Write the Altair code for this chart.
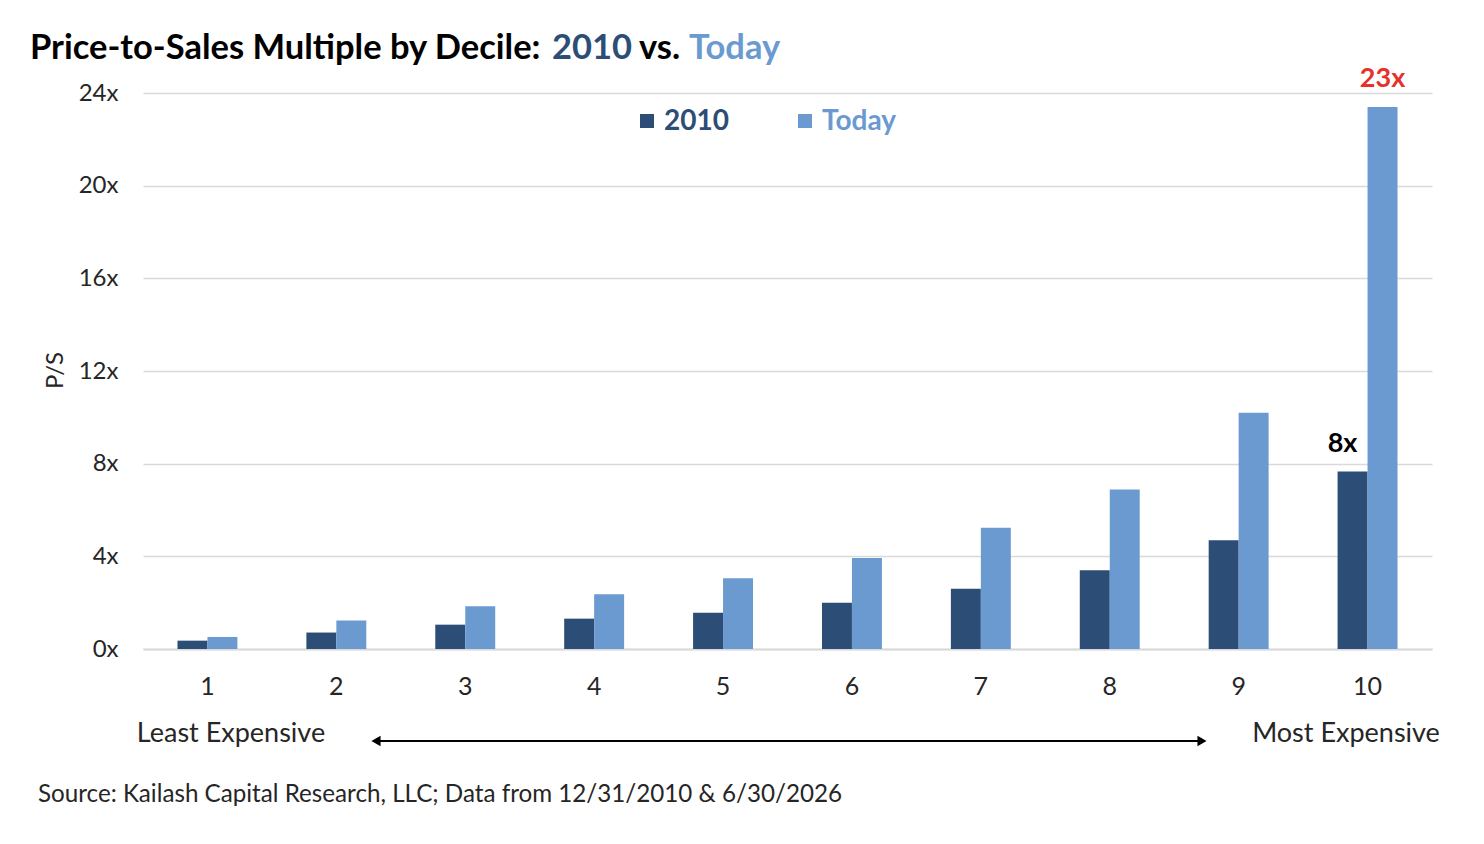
import altair as alt
import pandas as pd

# ---- data ----
deciles = [1, 2, 3, 4, 5, 6, 7, 8, 9, 10]
ps_2010 = [0.36, 0.71, 1.05, 1.31, 1.57, 2.00, 2.60, 3.40, 4.69, 7.66]
ps_today = [0.52, 1.23, 1.84, 2.36, 3.05, 3.93, 5.23, 6.88, 10.20, 23.40]
series_names = ["2010", "Today"]
series_colors = ["#2C4D75", "#6A9AD0"]
y_ticks = [0, 4, 8, 12, 16, 20, 24]

title_parts = ["Price-to-Sales Multiple by Decile:", "2010", "vs.", "Today"]
title_colors = ["#000000", "#2C4D75", "#000000", "#6A9AD0"]
title_x = [-113, 409, 496, 546]

left_note = "Least Expensive"
right_note = "Most Expensive"
source_note = "Source: Kailash Capital Research, LLC; Data from 12/31/2010 & 6/30/2026"

FONT = "Lato"
TXT = "#262626"

rows = []
for d, a, b in zip(deciles, ps_2010, ps_today):
    rows.append({"decile": d, "series": series_names[0], "value": a})
    rows.append({"decile": d, "series": series_names[1], "value": b})
df = pd.DataFrame(rows)

W, H = 1289, 556

xscale = alt.Scale(paddingInner=0.535, paddingOuter=0.2675)
yscale = alt.Scale(domain=[0, 24], nice=False)
cscale = alt.Scale(domain=series_names, range=series_colors)

bars = alt.Chart(df).mark_bar().encode(
    x=alt.X("decile:O", scale=xscale,
            axis=alt.Axis(title=None, labelAngle=0, labelFontSize=25, labelFont=FONT,
                          labelColor=TXT, labelPadding=25, ticks=False,
                          domainColor="#D9D9D9", domainWidth=2)),
    xOffset=alt.XOffset("series:N", scale=alt.Scale(domain=series_names, paddingInner=0, paddingOuter=0)),
    y=alt.Y("value:Q", scale=yscale,
            axis=alt.Axis(values=y_ticks, labelExpr="datum.value + 'x'", title="P/S",
                          titleFont=FONT, titleFontSize=24, titleFontWeight="normal",
                          titleColor=TXT, titleX=-88, titleY=277, titleAngle=-90,
                          titleAlign="center", titleBaseline="middle",
                          labelFontSize=24, labelFont=FONT, labelColor=TXT, labelPadding=25,
                          ticks=False, domain=False, gridColor="#D9D9D9", gridWidth=1.5)),
    color=alt.Color("series:N", scale=cscale, legend=None),
)

ann_base = alt.Chart(df).transform_filter(alt.datum.decile == 10).transform_calculate(
    label="format(datum.value, '.0f') + 'x'"
)
ann_2010 = ann_base.transform_filter(alt.datum.series == series_names[0]).mark_text(
    font=FONT, fontSize=27, fontWeight="bold", baseline="alphabetic", dy=-20, dx=-10, color="#000000"
).encode(x="decile:O", xOffset="series:N", y="value:Q", text="label:N")
ann_today = ann_base.transform_filter(alt.datum.series == series_names[1]).mark_text(
    font=FONT, fontSize=27, fontWeight="bold", baseline="alphabetic", dy=-20, color="#E8302A"
).encode(x="decile:O", xOffset="series:N", y="value:Q", text="label:N")

layers = [bars, ann_2010, ann_today]

# title pieces
one = pd.DataFrame({"k": [0]})
for txt, col, xx in zip(title_parts, title_colors, title_x):
    layers.append(alt.Chart(one).mark_text(font=FONT, fontSize=34.5, fontWeight="bold",
                                           align="left", baseline="alphabetic", color=col, text=txt)
                  .encode(x=alt.value(xx), y=alt.value(-34)))

# legend
leg_sq_x = [504, 662]
for name, col, sx in zip(series_names, series_colors, leg_sq_x):
    layers.append(alt.Chart(one).mark_square(size=196, color=col, opacity=1)
                  .encode(x=alt.value(sx), y=alt.value(28)))
    layers.append(alt.Chart(one).mark_text(font=FONT, fontSize=28, fontWeight="bold",
                                           align="left", baseline="middle", color=col, text=name)
                  .encode(x=alt.value(sx + 17), y=alt.value(29)))

# bottom notes
layers.append(alt.Chart(one).mark_text(font=FONT, fontSize=27, align="center", baseline="alphabetic",
                                       color=TXT, text=left_note)
              .encode(x=alt.value(88), y=alt.value(649)))
layers.append(alt.Chart(one).mark_text(font=FONT, fontSize=27, align="center", baseline="alphabetic",
                                       color=TXT, text=right_note)
              .encode(x=alt.value(1203), y=alt.value(649)))
layers.append(alt.Chart(one).mark_text(font=FONT, fontSize=24.2, align="left", baseline="alphabetic",
                                       color=TXT, text=source_note)
              .encode(x=alt.value(-105), y=alt.value(709)))

# double-headed arrow
layers.append(alt.Chart(one).mark_rule(color="#000000", strokeWidth=2)
              .encode(x=alt.value(234), x2=alt.value(1058), y=alt.value(648)))
layers.append(alt.Chart(one).mark_point(shape="triangle-left", filled=True, size=110, color="#000000", opacity=1)
              .encode(x=alt.value(233), y=alt.value(648)))
layers.append(alt.Chart(one).mark_point(shape="triangle-right", filled=True, size=110, color="#000000", opacity=1)
              .encode(x=alt.value(1059), y=alt.value(648)))

chart = alt.layer(*layers).properties(
    width=W, height=H,
    background="white",
    padding={"left": 135, "top": 85, "right": 40, "bottom": 190},
    autosize=alt.AutoSizeParams(type="none"),
).configure_view(stroke=None)

chart.save("out.html", embed_options={"renderer": "svg", "actions": False})
